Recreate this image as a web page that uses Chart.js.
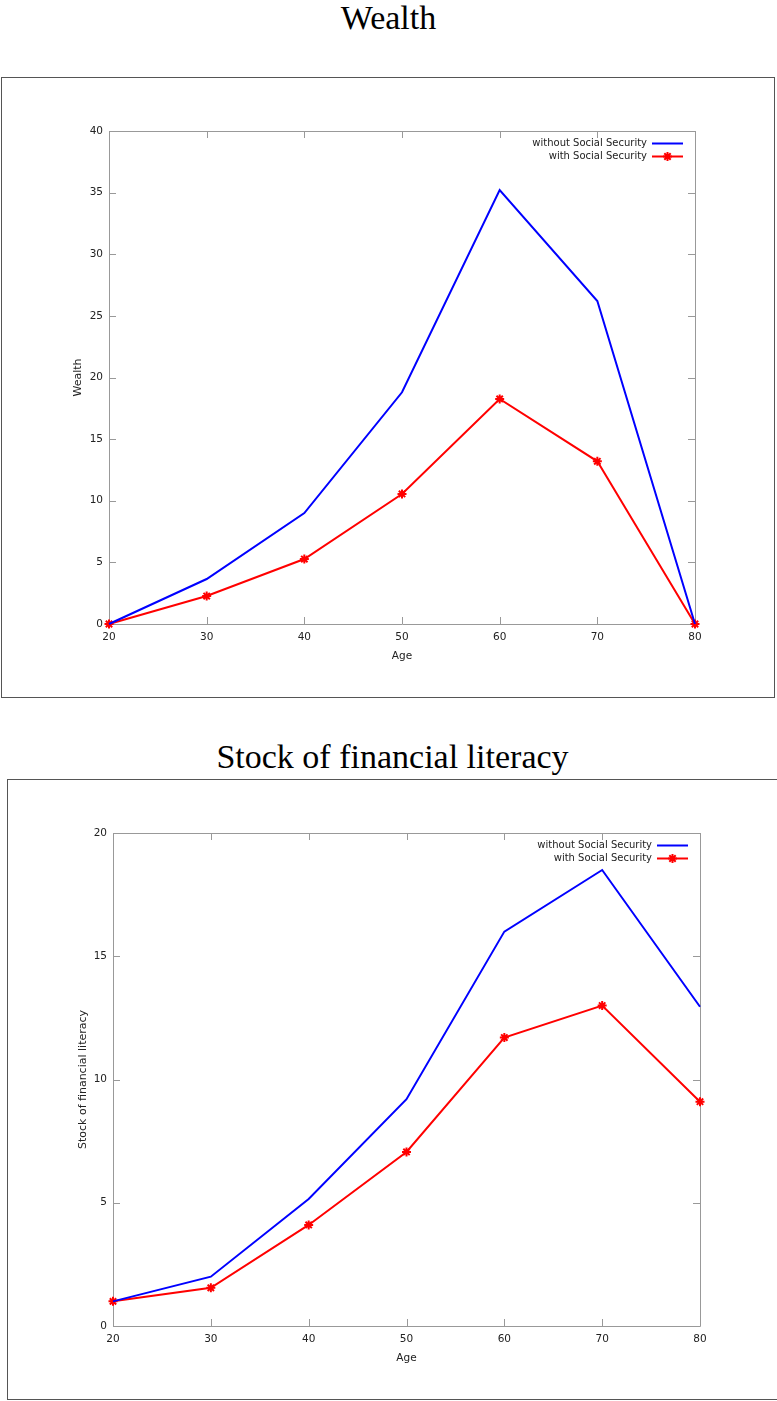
<!DOCTYPE html>
<html>
<head>
<meta charset="utf-8">
<script src="https://cdn.jsdelivr.net/npm/chart.js@4.4.1/dist/chart.umd.min.js"></script>
<style>
  html, body { margin: 0; padding: 0; background: #fff; }
  body { width: 777px; height: 1401px; position: relative; overflow: hidden; }
  .title { position: absolute; left: 0; width: 777px; text-align: center; font-family: "Liberation Serif", "DejaVu Serif", serif; font-size: 34px; color: #000; line-height: 1; white-space: nowrap; }
  .box { position: absolute; border: 1px solid #555; background: #fff; }
  .box canvas { display: block; }
</style>
</head>
<body>
<div class="title" id="t1" style="top:1px;">Wealth</div>
<div class="box" style="left:1px; top:77px; width:772px; height:619px;"><canvas id="c1" width="772" height="619"></canvas></div>
<div class="title" id="t2" style="top:740px; left:4px;">Stock of financial literacy</div>
<div class="box" style="left:7px; top:779px; width:772px; height:619px;"><canvas id="c2" width="772" height="619"></canvas></div>
<script>
const ages = [20, 30, 40, 50, 60, 70, 80];
const xTicks = [20, 30, 40, 50, 60, 70, 80];
const seriesNames = ["without Social Security", "with Social Security"];

const wealthWithout = [0, 3.65, 9.0, 18.8, 35.2, 26.2, 0];
const wealthWith = [0, 2.27, 5.27, 10.55, 18.26, 13.2, 0];
const wealthYTicks = [0, 5, 10, 15, 20, 25, 30, 35, 40];

const litWithout = [1.0, 2.0, 5.15, 9.2, 16.0, 18.5, 12.95];
const litWith = [1.0, 1.55, 4.1, 7.06, 11.7, 13.0, 9.1];
const litYTicks = [0, 5, 10, 15, 20];

const FONT = "DejaVu Sans";
const AXIS_COLOR = "#999";

const gnuplotFrame = {
  id: 'gnuplotFrame',
  beforeDatasetsDraw(chart) {
    const ctx = chart.ctx;
    const a = chart.chartArea;
    const xs = chart.scales.x, ys = chart.scales.y;
    const tl = 7;
    ctx.save();
    ctx.strokeStyle = AXIS_COLOR;
    ctx.lineWidth = 1;
    ctx.beginPath();
    ctx.rect(Math.round(a.left) + 0.5, Math.round(a.top) + 0.5, Math.round(a.right - a.left), Math.round(a.bottom - a.top));
    xs.ticks.forEach(t => {
      const px = Math.round(xs.getPixelForValue(t.value)) + 0.5;
      ctx.moveTo(px, a.bottom); ctx.lineTo(px, a.bottom - tl);
      ctx.moveTo(px, a.top); ctx.lineTo(px, a.top + tl);
    });
    ys.ticks.forEach(t => {
      const py = Math.round(ys.getPixelForValue(t.value)) + 0.5;
      ctx.moveTo(a.left, py); ctx.lineTo(a.left + tl, py);
      ctx.moveTo(a.right, py); ctx.lineTo(a.right - tl, py);
    });
    ctx.stroke();
    ctx.restore();
  },
  afterDatasetsDraw(chart) {
    const ctx = chart.ctx;
    const a = chart.chartArea;
    // key (legend) in top-right, gnuplot style
    const ds = chart.data.datasets;
    ctx.save();
    ctx.font = "10px '" + FONT + "'";
    ctx.textAlign = 'right';
    ctx.textBaseline = 'middle';
    ds.forEach((d, i) => {
      const y = a.top + 12.5 + i * 13;
      const xr = a.right - 48;
      ctx.fillStyle = '#222';
      ctx.fillText(d.label, xr, y);
      ctx.strokeStyle = d.borderColor;
      ctx.lineWidth = 2;
      ctx.beginPath();
      ctx.moveTo(xr + 5, y); ctx.lineTo(xr + 36, y);
      ctx.stroke();
      if (d.pointStyle === 'star') {
        ctx.fillStyle = d.borderColor;
        ctx.strokeStyle = d.borderColor;
        ctx.lineWidth = 2;
        Chart.helpers.drawPoint(ctx, {pointStyle: 'star', radius: d.pointRadius, borderWidth: 2}, xr + 20.5, y);
      }
    });
    ctx.restore();
  }
};

function makeChart(id, yLabel, withoutVals, withVals, yTicks, geom) {
  const ctx = document.getElementById(id);
  return new Chart(ctx, {
    type: 'line',
    data: {
      datasets: [
        { label: seriesNames[0], data: ages.map((a, i) => ({x: a, y: withoutVals[i]})), borderColor: '#0000ff', backgroundColor: '#0000ff', borderWidth: 2, pointRadius: 0, tension: 0, fill: false, clip: false },
        { label: seriesNames[1], data: ages.map((a, i) => ({x: a, y: withVals[i]})), borderColor: '#ff0000', backgroundColor: '#ff0000', borderWidth: 2, pointRadius: 4.5, pointStyle: 'star', pointBorderWidth: 2, pointBorderColor: '#ff0000', tension: 0, fill: false, clip: false }
      ]
    },
    options: {
      responsive: false,
      animation: false,
      events: [],
      layout: { padding: { left: geom.padLeft, top: geom.top, right: geom.padRight, bottom: geom.padBottom } },
      plugins: { legend: { display: false }, tooltip: { enabled: false }, title: { display: false } },
      scales: {
        x: {
          type: 'linear',
          min: xTicks[0], max: xTicks[xTicks.length - 1],
          afterBuildTicks: s => { s.ticks = xTicks.map(v => ({value: v})); },
          afterFit: s => { s.height = geom.xHeight; },
          grid: { display: false, drawTicks: false },
          border: { display: false },
          ticks: { padding: 7, color: '#222', font: { family: FONT, size: 10.5 }, maxRotation: 0, autoSkip: false },
          title: { display: true, text: 'Age', color: '#222', font: { family: FONT, size: 10.5 }, padding: 0 }
        },
        y: {
          type: 'linear',
          min: yTicks[0], max: yTicks[yTicks.length - 1],
          afterBuildTicks: s => { s.ticks = yTicks.map(v => ({value: v})); },
          afterFit: s => { s.width = geom.yWidth; },
          grid: { display: false, drawTicks: false },
          border: { display: false },
          ticks: { padding: 6, color: '#222', font: { family: FONT, size: 10.5 }, autoSkip: false },
          title: { display: true, text: yLabel, color: '#222', font: { family: FONT, size: 11 }, padding: 0 }
        }
      }
    },
    plugins: [gnuplotFrame]
  });
}

// chart 1: canvas origin (2,78); plot area left 107, top 53, right 693, bottom 546
makeChart('c1', 'Wealth', wealthWithout, wealthWith, wealthYTicks,
  { padLeft: 69.4, yWidth: 107 - 69.4, top: 53, padRight: 772 - 693, xHeight: 38.3, padBottom: 619 - 546 - 38.3 });
// chart 2: canvas origin (8,780); plot area left 105, top 53, right 692, bottom 546
makeChart('c2', 'Stock of financial literacy', litWithout, litWith, litYTicks,
  { padLeft: 68.4, yWidth: 105 - 68.4, top: 53, padRight: 772 - 692, xHeight: 38.3, padBottom: 619 - 546 - 38.3 });
</script>
</body>
</html>
